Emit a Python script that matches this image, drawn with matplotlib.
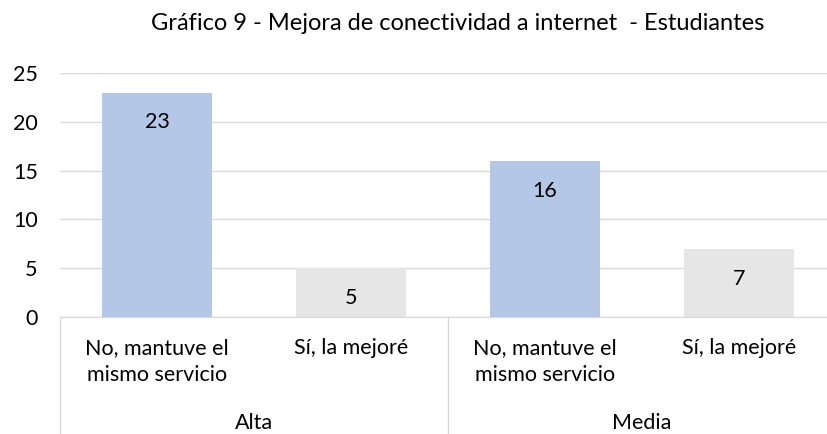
import numpy as np
from matplotlib import pyplot as plt
import matplotlib.transforms as mtransforms

# data
categories = ["No, mantuve el\nmismo servicio", "Sí, la mejoré",
              "No, mantuve el\nmismo servicio", "Sí, la mejoré"]
values = [23, 5, 16, 7]
colors = ["#B4C7E7", "#E7E6E6", "#B4C7E7", "#E7E6E6"]
groups = ["Alta", "Media"]
title = "Gráfico 9 - Mejora de conectividad a internet  - Estudiantes"

plt.rcParams['font.family'] = ['Lato', 'DejaVu Sans']

fig = plt.figure(figsize=(8.28, 4.34), dpi=100)
ax = fig.add_axes([60 / 828, 1 - 317 / 434, 776 / 828, 244 / 434])

x = np.arange(len(values))
bars = ax.bar(x, values, width=0.57, color=colors, zorder=2)
for xi, v in zip(x, values):
    ax.annotate(str(v), (xi, v), xytext=(0, -21.5), textcoords='offset points',
                ha='center', va='center', fontsize=15.5)

ax.set_xlim(-0.5, len(values) - 0.5)
ax.set_ylim(0, 25)
ax.set_yticks(range(0, 26, 5))
ax.grid(axis='y', color='#D9D9D9', linewidth=1, zorder=0)
for s in ['top', 'right', 'left']:
    ax.spines[s].set_visible(False)
ax.spines['bottom'].set_color('#D9D9D9')
ax.tick_params(axis='y', length=0, pad=16, labelsize=15.5)
ax.set_xticks(x)
ax.set_xticklabels(categories, fontsize=15.5, linespacing=1.45)
ax.tick_params(axis='x', length=0, pad=15)

# group separators and group labels
trans = mtransforms.blended_transform_factory(ax.transData, ax.transAxes)
for xs in [-0.5, 1.5, 3.5]:
    ax.plot([xs, xs], [0, -0.5], color='#D9D9D9', linewidth=1,
            transform=trans, clip_on=False)
for i, g in enumerate(groups):
    ax.text(2 * i + 0.5, -0.435, g, transform=trans, ha='center', va='center',
            fontsize=15.5)

fig.text(458 / 828, 1 - 24 / 434, title, ha='center', va='center', fontsize=17)

fig.savefig("out.png", dpi=100)
